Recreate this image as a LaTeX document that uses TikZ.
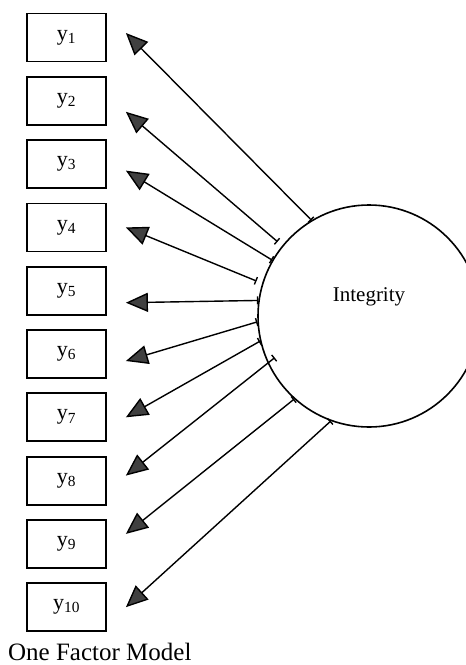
\documentclass[tikz,border=0pt]{standalone}
\usepackage{fontspec}
\setmainfont{Liberation Serif}
\usetikzlibrary{positioning,arrows.meta}

\begin{document}
\begin{tikzpicture}[
x=1pt, y=-1pt,
boxnode/.style={rectangle, draw=black, line width=1.8pt, minimum width=79pt, minimum height=48pt, inner sep=0pt, font=\fontsize{22}{24}\selectfont},
factornode/.style={circle, draw=black, line width=1.6pt, minimum size=222pt, inner sep=0pt},
loadline/.style={{Bar[width=8pt,line width=1.4pt]}-{Triangle[length=22pt,width=19pt,fill=black!75]}, line width=1.4pt}
]
\useasboundingbox (0,0) rectangle (466,665);
    %Nodes
    \node[boxnode] (y1) at (66.5,37.5) {y\textsubscript{1}};
    \foreach \i [remember=\i as \prev (initially 1)] in {2,...,10}
        \node[boxnode] (y\i) [below=13.5pt of y\prev] {y\textsubscript{\i}};
    \node[factornode] (f) at (369,316) {};
    \node[font=\fontsize{21}{24}\selectfont] (flabel) at ([yshift=19pt]f.center) {Integrity};
    \node[anchor=west, inner sep=0pt, font=\fontsize{25}{28}\selectfont] (caption) at (8,652) {One Factor Model};

    %Lines
    \foreach \i/\a/\s/\d in {1/121.2/0/4.5, 2/141.6/6/-11, 3/150.1/0/-6.5, 4/163.1/6/0, 5/172.9/0/-12, 6/183.1/0/-7, 7/193.2/0/0, 8/205.6/-9/5, 9/228.6/0/10, 10/250.7/0/0}
        \draw[loadline, shorten <=\s pt] (f.\a) -- ([xshift=19pt,yshift=\d pt]y\i.east);
\end{tikzpicture}
\end{document}
